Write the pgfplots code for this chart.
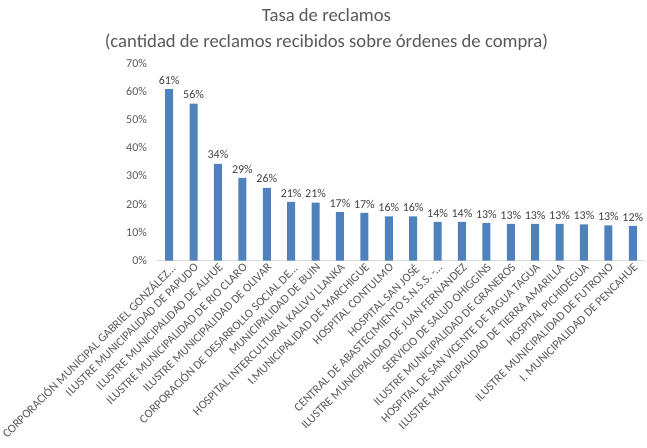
\documentclass[border=0pt]{standalone}
\usepackage{pgfplots}
\pgfplotsset{compat=1.18}
\usepackage{fontspec}
\setmainfont{Carlito}
\definecolor{barblue}{HTML}{4F81BD}
\definecolor{txtgray}{HTML}{595959}
\definecolor{lblgray}{HTML}{404040}
\definecolor{axgray}{HTML}{D9D9D9}
\begin{document}
\begin{tikzpicture}
\begin{axis}[
  at={(0,0)}, anchor=south west,
  scale only axis,
  width=366pt, height=148.1pt,
  ybar, bar width=6pt,
  xmin=-0.5, xmax=19.5,
  ymin=0, ymax=70,
  ytick={0,10,...,70},
  yticklabel={\pgfmathprintnumber{\tick}\%},
  xtick={0,...,19},
  xticklabels={
    {CORPORACIÓN MUNICIPAL GABRIEL GONZÁLEZ…},
    {ILUSTRE MUNICIPALIDAD DE PAPUDO},
    {ILUSTRE MUNICIPALIDAD DE ALHUE},
    {ILUSTRE MUNICIPALIDAD DE RIO CLARO},
    {ILUSTRE MUNICIPALIDAD DE OLIVAR},
    {CORPORACIÓN DE DESARROLLO SOCIAL DE…},
    {MUNICIPALIDAD DE BUIN},
    {HOSPITAL INTERCULTURAL KALLVU LLANKA},
    {I.MUNICIPALIDAD DE MARCHIGUE},
    {HOSPITAL CONTULMO},
    {HOSPITAL SAN JOSÉ},
    {CENTRAL DE ABASTECIMIENTO S.N.S.S. -…},
    {ILUSTRE MUNICIPALIDAD DE JUAN FERNANDEZ},
    {SERVICIO DE SALUD OHIGGINS},
    {ILUSTRE MUNICIPALIDAD DE GRANEROS},
    {HOSPITAL DE SAN VICENTE DE TAGUA TAGUA},
    {ILUSTRE MUNICIPALIDAD DE TIERRA AMARILLA},
    {HOSPITAL PICHIDEGUA},
    {ILUSTRE MUNICIPALIDAD DE FUTRONO},
    {I. MUNICIPALIDAD DE PENCAHUE}},
  xticklabel style={rotate=45, anchor=north east, inner sep=1pt, font=\fontsize{9}{10}\selectfont, text=txtgray},
  yticklabel style={font=\fontsize{9}{10}\selectfont, text=txtgray, xshift=-4pt},
  /pgf/number format/assume math mode=true,
  major tick length=0pt,
  axis x line*=bottom,
  axis y line*=left,
  x axis line style={draw=axgray, line width=0.75pt, -},
  y axis line style={draw=none},
  ytick style={draw=none},
  xtick style={draw=none},
  clip=false,
  nodes near coords={\pgfmathprintnumber[fixed,precision=0]{\pgfplotspointmeta}\%},
  nodes near coords style={font=\fontsize{9}{10}\selectfont, text=lblgray},
]
\addplot[fill=barblue, draw=none] coordinates {
 (0,60.8) (1,55.6) (2,34.3) (3,29.3) (4,25.8) (5,20.8) (6,20.5) (7,17.2) (8,16.9) (9,15.7)
 (10,15.7) (11,13.7) (12,13.7) (13,13.3) (14,13.0) (15,13.0) (16,13.0) (17,12.8) (18,12.5) (19,12.3)
};
\end{axis}
\node[anchor=base, font=\fontsize{14}{16}\selectfont, text=txtgray] at (127.1pt,179.65pt) {Tasa de reclamos};
\node[anchor=base, font=\fontsize{14}{16}\selectfont, text=txtgray] at (127.1pt,160.15pt) {(cantidad de reclamos recibidos sobre órdenes de compra)};
\pgfresetboundingbox
\path[use as bounding box] (-117.75pt,-139.9pt) rectangle (367.5pt,195.4pt);
\end{tikzpicture}
\end{document}
